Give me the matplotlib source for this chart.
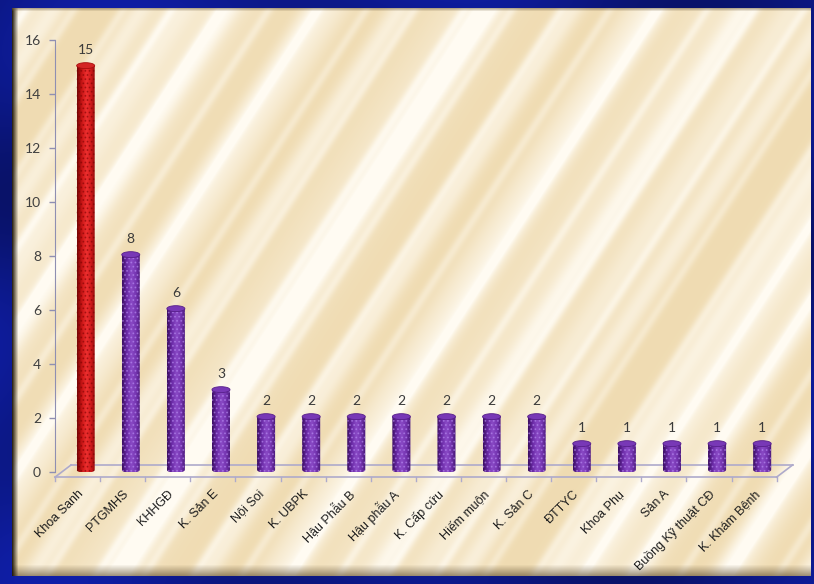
import numpy as np
import matplotlib
matplotlib.use("Agg")
import matplotlib.pyplot as plt
import matplotlib.transforms as mtransforms
from matplotlib.patches import Ellipse, PathPatch
from matplotlib.path import Path
from matplotlib.colors import LinearSegmentedColormap

# ---- data ----
departments = ["Khoa Sanh", "PTGMHS", "KHHGĐ", "K. Sản E", "Nội Soi", "K. UBPK",
               "Hậu Phẫu B", "Hậu phẫu A", "K. Cấp cứu", "Hiếm muộn", "K. Sản C",
               "ĐTTYC", "Khoa Phụ", "Sản A", "Buồng Kỹ thuật CĐ", "K. Khám Bệnh"]
counts = [15, 8, 6, 3, 2, 2, 2, 2, 2, 2, 2, 1, 1, 1, 1, 1]
y_ticks = [0, 2, 4, 6, 8, 10, 12, 14, 16]

plt.rcParams["hatch.linewidth"] = 0.8

W, H = 814, 584
fig = plt.figure(figsize=(W / 100, H / 100), dpi=100)

# ---- background: blue frame and streaked beige panel ----
bg = fig.add_axes([0, 0, 1, 1])
bg.set_xlim(0, W)
bg.set_ylim(H, 0)
bg.axis("off")

yy, xx = np.mgrid[0:H, 0:W].astype(float)
blue = np.zeros((H, W, 3))
shade = 0.8 + 0.2 * np.sin(xx / 90.0 + yy / 140.0) * np.cos(yy / 60.0 - xx / 200.0)
blue[..., 0] = 0.06 * shade
blue[..., 1] = 0.12 * shade
blue[..., 2] = 0.62 * shade + 0.04
bg.imshow(np.clip(blue, 0, 1), extent=[0, W, H, 0], aspect="auto", zorder=0)

px0, px1, py0, py1 = 12, 811, 8, 576
ph, pw = py1 - py0, px1 - px0
gy, gx = np.mgrid[0:ph, 0:pw].astype(float)
ang = np.deg2rad(57)
u = gx * np.sin(ang) + gy * np.cos(ang)
streak = (0.60 * np.sin(u / 23.0) ** 8 + 0.50 * np.sin(u / 41.0 + 1.3) ** 12
          + 0.40 * np.sin(u / 13.0 + 0.7) ** 16 + 0.35 * np.sin(u / 67.0 + 2.1) ** 6)
streak = np.clip(streak, 0, 1)
base = np.array([0.940, 0.862, 0.700])
light = np.array([1.0, 0.985, 0.95])
panel = base + (light - base) * streak[..., None]
# bevel at the bottom, shadow at the left and top edges
bot = np.clip((gy - (ph - 12)) / 12.0, 0, 1)[..., None]
panel = panel * (1 - 0.6 * bot) + np.array([0.33, 0.26, 0.14]) * 0.6 * bot
left = np.clip(1 - gx / 6.0, 0, 1)[..., None]
panel = panel * (1 - 0.9 * left) + np.array([0.10, 0.07, 0.02]) * 0.9 * left
top = np.clip(1 - gy / 3.0, 0, 1)[..., None]
panel = panel * (1 - 0.5 * top) + np.array([0.45, 0.38, 0.25]) * 0.5 * top
bg.imshow(np.clip(panel, 0, 1), extent=[px0, px1, py1, py0], aspect="auto", zorder=1)

# ---- chart axes ----
ax = fig.add_axes([55 / W, (H - 472) / H, 740 / W, 432 / H])
ax.set_facecolor("none")
n = len(departments)
ax.set_xlim(-0.5, -0.5 + 740 / 45.1)
ax.set_ylim(0, 16)

axis_col = "#8f8fb2"
floor_col = "#aeaacb"
for s in ["top", "right"]:
    ax.spines[s].set_visible(False)
ax.spines["left"].set_color(axis_col)
ax.spines["left"].set_bounds(0, 16)
ax.spines["bottom"].set_color(floor_col)
ax.spines["bottom"].set_linewidth(1.2)
front_y = -0.19
ax.spines["bottom"].set_position(("data", front_y))
ax.spines["bottom"].set_bounds(-0.5, n - 0.5)

ax.set_yticks(y_ticks)
ax.set_yticklabels([str(t) for t in y_ticks])
ax.tick_params(axis="y", direction="out", length=4, width=1, color=axis_col,
               labelsize=10, labelcolor="#3f3f3f", pad=6)
for lab in ax.get_yticklabels():
    lab.set_fontfamily("Lato")

ax.set_xticks(range(n))
ax.set_xticklabels(departments, rotation=45, ha="right", va="center",
                   rotation_mode="anchor", fontsize=9, color="#1e1e1e",
                   fontfamily="Liberation Sans")
ax.tick_params(axis="x", which="major", length=0, pad=11)
label_shift = mtransforms.ScaledTranslation(4 / 100, 0, fig.dpi_scale_trans)
for lab in ax.get_xticklabels():
    lab.set_transform(lab.get_transform() + label_shift)

# short ticks under the front floor edge at the slot boundaries
tick_len = 4 / 27.0
for b in np.arange(-0.5, n, 1.0):
    ax.plot([b, b], [front_y, front_y - tick_len], color=floor_col, lw=1,
            clip_on=False, zorder=2)

# floor outline (back edge and sides)
dx, back_y = 0.355, 0.26
ax.plot([-0.5 + dx, n - 0.5 + dx], [back_y, back_y], color=floor_col, lw=1.2,
        clip_on=False, zorder=2)
ax.plot([-0.5, -0.5 + dx], [front_y, back_y], color=floor_col, lw=1.2,
        clip_on=False, zorder=2)
ax.plot([n - 0.5, n - 0.5 + dx], [front_y, back_y], color=floor_col, lw=1.2,
        clip_on=False, zorder=2)

# ---- cylinder bars ----
purple_cmap = LinearSegmentedColormap.from_list(
    "cyl_p", ["#3a0e60", "#6a2aa6", "#8a4ac6", "#7434b0", "#451672"])
red_cmap = LinearSegmentedColormap.from_list(
    "cyl_r", ["#760505", "#c81414", "#ee3030", "#d01a1a", "#860707"])
grad = np.linspace(0, 1, 64).reshape(1, -1)

bw = 0.40
eh = 0.22
shift = 0.18
y_base = 0.08
for i, v in enumerate(counts):
    cx = i + shift
    x0, x1 = cx - bw / 2, cx + bw / 2
    y_top = v + 0.05
    cmap = red_cmap if i == 0 else purple_cmap
    top_col = "#d42424" if i == 0 else "#7838b6"
    dot_col = (0.45, 0.0, 0.0, 0.45) if i == 0 else (0.72, 0.55, 0.95, 0.55)

    # body outline: rectangle closed by the lower half of the base ellipse
    t = np.linspace(np.pi, 2 * np.pi, 40)
    verts = [(x0, y_top)] + [(cx + bw / 2 * np.cos(a), y_base + eh / 2 * np.sin(a)) for a in t]
    verts += [(x1, y_top), (x0, y_top)]
    body = Path(verts, closed=True)
    im = ax.imshow(grad, cmap=cmap, extent=[x0, x1, y_base - eh, y_top],
                   aspect="auto", zorder=3, interpolation="bilinear")
    clip = PathPatch(body, transform=ax.transData, facecolor="none", edgecolor="none")
    ax.add_patch(clip)
    im.set_clip_path(clip)
    ax.add_patch(PathPatch(body, facecolor="none", edgecolor=dot_col, hatch="....",
                           lw=0, zorder=4))
    ax.add_patch(Ellipse((cx, y_top), bw, eh, facecolor=top_col,
                         edgecolor=cmap(0.15), lw=0.6, zorder=5))

    ax.annotate(str(v), xy=(cx, y_top + eh / 2), xytext=(0, 9),
                textcoords="offset points", ha="center", va="center",
                fontsize=10, color="#3a3a3a", fontfamily="Lato", zorder=6)

fig.savefig("out.png", dpi=100)
